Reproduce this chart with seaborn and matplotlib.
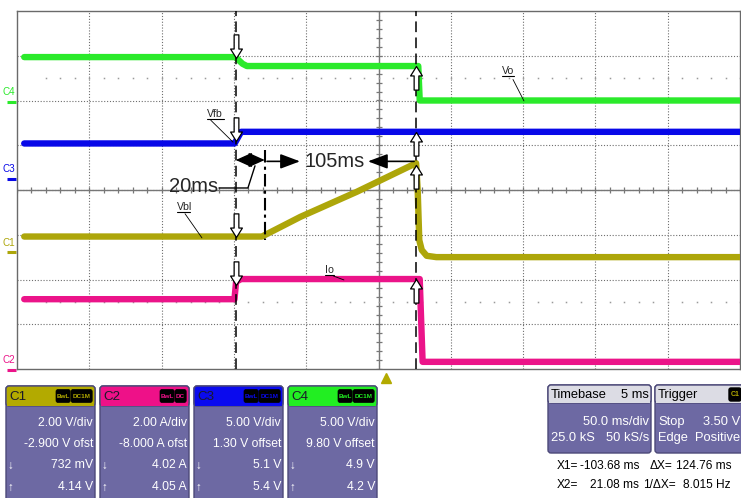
import numpy as np
import pandas as pd
import matplotlib
matplotlib.use('Agg')
import matplotlib.pyplot as plt
import matplotlib.transforms as mtransforms
from matplotlib import font_manager
from matplotlib.path import Path
from matplotlib.patches import FancyBboxPatch, Rectangle
import seaborn as sns

# scope traces: time in ms (relative to trigger), level in screen divisions
c4_t = [-250, -104, -99, -96, 22.5, 23.5, 245]
c4_v = [2.97, 2.97, 2.82, 2.77, 2.77, 2.00, 2.00]
c3_t = [-250, -104.5, -100, 245]
c3_v = [1.04, 1.04, 1.30, 1.30]
c1_t = [-250, -85.6, -59, -20, 21.0, 22.1, 23.2, 24.9, 28.3, 35, 245]
c1_v = [-1.04, -1.04, -0.60, -0.04, 0.60, 0.0, -1.12, -1.34, -1.47, -1.50, -1.50]
c2_t = [-250, -104.6, -103.5, -100, 23.5, 25.5, 245]
c2_v = [-2.44, -2.44, -2.05, -1.99, -1.99, -3.84, -3.84]

trace_names = ['C4', 'C3', 'C1', 'C2']
trace_colors = {'C4': '#2bea2b', 'C3': '#0808e8', 'C1': '#ada60a', 'C2': '#eb1489'}

# cursors (ms)
x1 = -103.68
x2 = 21.08

# bottom panel readouts
ch_names = ['C1', 'C2', 'C3', 'C4']
ch_head = ['#b3aa00', '#ee1188', '#0a0aee', '#22ee22']
ch_coupling = ['DC1M', 'DC', 'DC1M', 'DC1M']
ch_scale = ['2.00 V/div', '2.00 A/div', '5.00 V/div', '5.00 V/div']
ch_offset = ['-2.900 V ofst', '-8.000 A ofst', '1.30 V offset', '9.80 V offset']
ch_x1 = ['732 mV', '4.02 A', '5.1 V', '4.9 V']
ch_x2 = ['4.14 V', '4.05 A', '5.4 V', '4.2 V']
tb_head = ['Timebase', '5 ms']
tb_rows = ['50.0 ms/div', '25.0 kS', '50 kS/s']
trig_rows = ['Stop', '3.50 V', 'Edge', 'Positive']
cursor_text = [('X1=', '-103.68 ms', 'ΔX=', '124.76 ms'),
               ('X2=', '21.08 ms', '1/ΔX=', '8.015 Hz')]

# pick a condensed font if there is one
NARROW, NSCALE = 'Liberation Sans', 0.84
for cand in ['Liberation Sans Narrow', 'Arial Narrow']:
    try:
        font_manager.findfont(font_manager.FontProperties(family=cand), fallback_to_default=False)
        NARROW, NSCALE = cand, 1.0
        break
    except ValueError:
        pass


def nf(size, **kw):
    d = dict(family=[NARROW, 'DejaVu Sans'], fontsize=size * NSCALE)
    d.update(kw)
    return d


sns.set_style('white')
fig = plt.figure(figsize=(7.41, 4.98), dpi=100)

# background axes in pixel coords for the readout panels
bg = fig.add_axes([0, 0, 1, 1], zorder=0)
bg.set_xlim(0, 741)
bg.set_ylim(498, 0)
bg.axis('off')

ax = fig.add_axes([17 / 741, 129 / 498, 723 / 741, 358 / 498], zorder=1)
ax.set_xlim(-255, 245)
ax.set_ylim(-4, 4)

# graticule
ax.set_xticks(np.arange(-205, 245, 50))
ax.set_yticks(np.arange(-3, 4, 1))
ax.tick_params(length=0, labelbottom=False, labelleft=False)
ax.grid(True, color='#6e6e6e', linestyle=(0, (1, 1.6)), linewidth=0.8)
for s in ax.spines.values():
    s.set_color('#6a6a6a')
    s.set_linewidth(1)
ax.axhline(0, color='#777777', lw=1, zorder=1)
ax.axvline(-5, color='#777777', lw=1, zorder=1)
ax.plot(np.arange(-255, 246, 10), np.zeros(51), ls='none', marker='|', ms=5, mew=0.9, color='#777777', zorder=1)
ax.plot(np.full(41, -5.0), np.arange(-4, 4.01, 0.2), ls='none', marker='_', ms=5, mew=0.9, color='#777777', zorder=1)
for yy in (2.5, -2.5):
    ax.plot(np.arange(-235, 246, 10), np.full(49, yy), ls='none', marker='s', ms=1.1, mew=0, color='#9a9a9a', zorder=1)

# traces
df = pd.concat([pd.DataFrame({'t': t, 'div': v, 'ch': n})
                for n, t, v in zip(trace_names, [c4_t, c3_t, c1_t, c2_t], [c4_v, c3_v, c1_v, c2_v])])
sns.lineplot(data=df, x='t', y='div', hue='ch', hue_order=trace_names, palette=trace_colors,
             estimator=None, sort=False, linewidth=4.6, legend=False, ax=ax, zorder=3)
ax.set_xlabel('')
ax.set_ylabel('')

# cursors
ax.axvline(x1, color='black', lw=1.1, ls=(0, (7, 3.5)), zorder=4)
ax.axvline(x2, color='black', lw=1.1, ls=(0, (7, 3.5)), zorder=4)
ax.plot([x1 + 20, x1 + 20], [0.89, -1.12], color='black', lw=1.5, ls=(0, (6, 2, 1.5, 2)), zorder=4)

# hollow cursor arrows where the cursors cross each trace
down = Path([(0, 0), (0.5, 0.8), (0.2, 0.8), (0.2, 2), (-0.2, 2), (-0.2, 0.8), (-0.5, 0.8), (0, 0)],
            [1, 2, 2, 2, 2, 2, 2, 79])
up = Path([(0, 0), (0.5, -0.8), (0.2, -0.8), (0.2, -2), (-0.2, -2), (-0.2, -0.8), (-0.5, -0.8), (0, 0)],
          [1, 2, 2, 2, 2, 2, 2, 79])
all_t = [c4_t, c3_t, c1_t, c2_t]
all_v = [c4_v, c3_v, c1_v, c2_v]
y_at1 = [np.interp(x1, t, v) for t, v in zip(all_t, all_v)]
y_at2 = [np.interp(x2, t, v) for t, v in zip(all_t, all_v)]
ax.plot([x1] * 4, y_at1, ls='none', marker=down, ms=34, mfc='white', mec='black', mew=0.9, zorder=5)
ax.plot([x2] * 4, y_at2, ls='none', marker=up, ms=34, mfc='white', mec='black', mew=0.9, zorder=5)

# 20ms / 105ms annotations
ax.annotate('', xy=(x1, 0.67), xytext=(x1 + 20, 0.67),
            arrowprops=dict(arrowstyle='<|-|>,head_length=1.0,head_width=0.45', color='black',
                            lw=1, shrinkA=0, shrinkB=0, mutation_scale=10), zorder=6)
ax.text(-116, -0.05, '20ms', ha='right', va='baseline', family=['Liberation Sans'], fontsize=14.5, zorder=6)
ax.plot([-115.3, -95.3, -90.4], [0.045, 0.045, 0.54], color='black', lw=1, zorder=6)
ax.annotate('', xy=(-59.3, 0.64), xytext=(-82.1, 0.64),
            arrowprops=dict(arrowstyle='-|>,head_length=1.2,head_width=0.45', color='black',
                            lw=1.2, shrinkA=0, shrinkB=0, mutation_scale=10), zorder=6)
ax.annotate('', xy=(-12.3, 0.64), xytext=(19.6, 0.64),
            arrowprops=dict(arrowstyle='-|>,head_length=1.2,head_width=0.45', color='black',
                            lw=1.2, shrinkA=0, shrinkB=0, mutation_scale=10), zorder=6)
ax.text(-35.1, 0.64, '105ms', ha='center', va='center', family=['Liberation Sans'], fontsize=14.5, zorder=6)

# trace labels with underline and leader
labels = [('Vo', 80.4, 88.9, 2.59, (88.0, 2.47), (95.6, 1.99)),
          ('Vfb', -123.6, -111.8, 1.63, (-121.0, 1.56), (-105.6, 1.07)),
          ('Vbl', -144.4, -135.4, -0.45, (-138.8, -0.53), (-127.1, -1.07)),
          ('Io', -42.0, -35.5, -1.85, (-36.3, -1.92), (-28.9, -2.01))]
for txt, xa, xb, yb, p0, p1 in labels:
    ax.text(xa, yb, txt, ha='left', va='baseline', zorder=6, **nf(9))
    ax.plot([xa, xb], [yb - 0.05, yb - 0.05], color='black', lw=0.8, zorder=6)
    ax.plot([p0[0], p1[0]], [p0[1], p1[1]], color='black', lw=0.6, zorder=6)

# channel markers on the left edge
blend = mtransforms.blended_transform_factory(ax.transAxes, ax.transData)
ch_lab = {'C4': (2.20, 1.97), 'C3': (0.47, 0.24), 'C1': (-1.18, -1.39), 'C2': (-3.80, -4.02)}
for n, (ly, my) in ch_lab.items():
    ax.text(-0.011, ly, n, transform=blend, ha='center', va='center', color=trace_colors[n],
            clip_on=False, **nf(8.5))
    ax.plot([-0.0145, -0.001], [my, my], transform=blend, color=trace_colors[n], lw=2.2,
            solid_capstyle='butt', clip_on=False)

# trigger marker
tblend = mtransforms.blended_transform_factory(ax.transData, ax.transAxes)
ax.plot([0], [-0.025], transform=tblend, marker='^', ms=7, color='#b3aa00', clip_on=False, ls='none')

# channel readout boxes
body = '#6d69a3'
edge = '#4c4978'
badge_font = dict(family=['Liberation Sans'], fontsize=4.6, fontweight='bold')
for i, n in enumerate(ch_names):
    x0 = 6 + 94 * i
    w = 89
    bg.add_patch(FancyBboxPatch((x0, 386), w, 125, boxstyle='round,pad=0,rounding_size=3',
                                fc=body, ec=edge, lw=1))
    bg.add_patch(FancyBboxPatch((x0, 386), w, 20, boxstyle='round,pad=0,rounding_size=3',
                                fc=ch_head[i], ec=edge, lw=1))
    bg.add_patch(Rectangle((x0 + 0.6, 398), w - 1.2, 8, fc=ch_head[i], ec='none'))
    bg.text(x0 + 3, 396.5, n, ha='left', va='center', color='#1a1a2a', **nf(11.5))
    right = x0 + w - 2
    for lab, bw in [(ch_coupling[i], 22 if len(ch_coupling[i]) > 2 else 12), ('BwL', 15)]:
        bx = right - bw
        bg.add_patch(FancyBboxPatch((bx, 389.5), bw - 0.8, 13, boxstyle='round,pad=0,rounding_size=2',
                                    fc='black', ec='black', lw=0.5))
        bg.text(bx + (bw - 0.8) / 2, 396.3, lab, ha='center', va='center', color=ch_head[i], **badge_font)
        right = bx
    for txt, yy in [(ch_scale[i], 423), (ch_offset[i], 443.5), (ch_x1[i], 465), (ch_x2[i], 487)]:
        bg.text(x0 + w - 2, yy, txt, ha='right', va='center', color='white', **nf(10.5))
    bg.text(x0 + 4, 466, '↓', ha='center', va='center', color='white', **nf(10))
    bg.text(x0 + 4, 488, '↑', ha='center', va='center', color='white', **nf(10))

# timebase and trigger boxes
for x0, w in [(548, 103), (655, 100)]:
    bg.add_patch(FancyBboxPatch((x0, 385), w, 68, boxstyle='round,pad=0,rounding_size=3',
                                fc=body, ec=edge, lw=1))
    bg.add_patch(FancyBboxPatch((x0, 385), w, 18, boxstyle='round,pad=0,rounding_size=3',
                                fc='#dcdce4', ec=edge, lw=1))
    bg.add_patch(Rectangle((x0 + 0.6, 396), w - 1.2, 7, fc='#dcdce4', ec='none'))
bg.text(551, 394.5, tb_head[0], ha='left', va='center', color='black', **nf(11))
bg.text(649, 394.5, tb_head[1], ha='right', va='center', color='black', **nf(11))
bg.text(649, 422, tb_rows[0], ha='right', va='center', color='white', **nf(11))
bg.text(551, 438, tb_rows[1], ha='left', va='center', color='white', **nf(11))
bg.text(649, 438, tb_rows[2], ha='right', va='center', color='white', **nf(11))
bg.text(658, 394.5, 'Trigger', ha='left', va='center', color='black', **nf(11))
bg.add_patch(FancyBboxPatch((729, 388), 12, 13, boxstyle='round,pad=0,rounding_size=2', fc='black', ec='black'))
bg.text(735, 394.5, 'C1', ha='center', va='center', color='#b3aa00', family=['Liberation Sans'],
        fontsize=5, fontweight='bold')
bg.text(658, 422, trig_rows[0], ha='left', va='center', color='white', **nf(11))
bg.text(740, 422, trig_rows[1], ha='right', va='center', color='white', **nf(11))
bg.text(658, 438, trig_rows[2], ha='left', va='center', color='white', **nf(11))
bg.text(740, 438, trig_rows[3], ha='right', va='center', color='white', **nf(11))

# cursor readouts
for row, yy in zip(cursor_text, [466, 485]):
    bg.text(557, yy, row[0], ha='left', va='center', color='black', **nf(10.2))
    bg.text(639, yy, row[1], ha='right', va='center', color='black', **nf(10.2))
    bg.text(650 if row[2] == 'ΔX=' else 643, yy, row[2], ha='left', va='center', color='black', **nf(10.2))
    bg.text(731, yy, row[3], ha='right', va='center', color='black', **nf(10.2))

fig.savefig('out.png', dpi=100)
